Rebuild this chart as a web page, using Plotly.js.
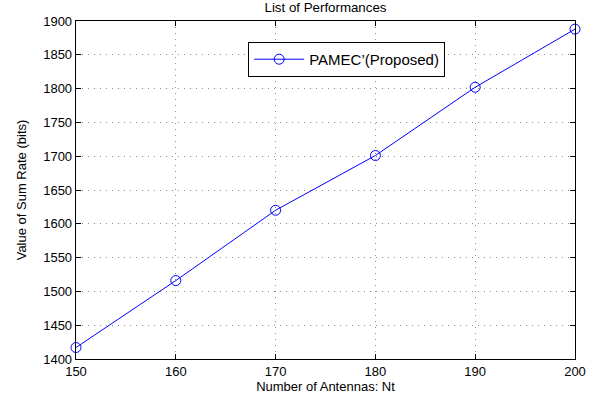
<!DOCTYPE html>
<html>
<head>
<meta charset="utf-8">
<script src="https://cdn.plot.ly/plotly-3.0.1.min.js"></script>
<style>html,body{margin:0;padding:0;background:#fff;}#chart{width:605px;height:402px;}</style>
</head>
<body>
<div id="chart"></div>
<script>
const antennas = [150, 160, 170, 180, 190, 200];
const sumRate = [1417, 1516, 1620, 1701, 1802, 1888];
const seriesName = "PAMEC\u2019(Proposed)";
const xTicks = [150, 160, 170, 180, 190, 200];
const yTicks = [1400, 1450, 1500, 1550, 1600, 1650, 1700, 1750, 1800, 1850, 1900];

const fam = "Liberation Sans, Arial, sans-serif";
const font = {family: fam, size: 13, color: "#000"};
const axisCommon = {
  showline: true, linecolor: "#000", linewidth: 1.3, mirror: "ticks",
  ticks: "inside", ticklen: 5, tickcolor: "#000", tickwidth: 1,
  showgrid: true, gridcolor: "#8c8c8c", griddash: "1px,5px", gridwidth: 1,
  zeroline: false, tickfont: font
};
const layout = {
  width: 605, height: 402,
  margin: {l: 76, r: 30, t: 21, b: 43},
  paper_bgcolor: "#fff", plot_bgcolor: "#fff",
  font: font,
  title: {text: "List of Performances", font: {family: fam, size: 13.3, color: "#000"},
          x: 0.5, xref: "paper", y: 1 - 7/402, yref: "container", yanchor: "middle"},
  xaxis: Object.assign({}, axisCommon, {
    range: [150, 200], tickmode: "array", tickvals: xTicks, ticktext: xTicks.map(String),
    title: {text: "Number of Antennas: Nt", font: font, standoff: 3}
  }),
  yaxis: Object.assign({}, axisCommon, {
    range: [1400, 1900], tickmode: "array", tickvals: yTicks, ticktext: yTicks.map(String),
    title: {text: "Value of Sum Rate (bits)", font: font, standoff: 13}
  }),
  showlegend: true,
  legend: {x: 0.345, y: 0.938, xanchor: "left", yanchor: "top",
           bgcolor: "#fff", bordercolor: "#000", borderwidth: 1, itemwidth: 50,
           font: {family: fam, size: 15, color: "#000"}}
};
const data = [{
  x: antennas, y: sumRate, name: seriesName, type: "scatter", mode: "lines+markers",
  line: {color: "#0000ff", width: 1},
  marker: {symbol: "circle-open", size: 10, color: "#0000ff", line: {width: 1, color: "#0000ff"}},
  cliponaxis: false
}];
Plotly.newPlot("chart", data, layout, {staticPlot: true, displayModeBar: false});
</script>
</body>
</html>
